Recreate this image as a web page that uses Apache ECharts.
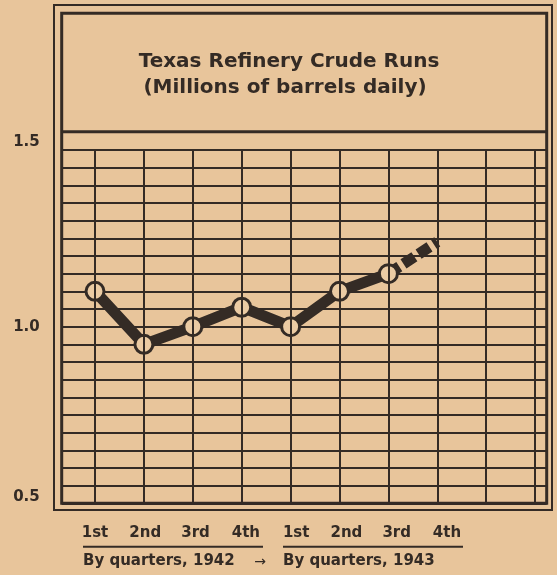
<!DOCTYPE html>
<html><head><meta charset="utf-8">
<script src="https://cdn.jsdelivr.net/npm/echarts@6/dist/echarts.min.js"></script>
<style>html,body{margin:0;padding:0;background:#e8c69d;} #c{width:557px;height:575px;}</style>
</head><body><div id="c"></div>
<script>
// ---- data ----
const titleLines = ['Texas Refinery Crude Runs', '(Millions of barrels daily)'];
const quarters = ['1st', '2nd', '3rd', '4th', '1st', '2nd', '3rd', '4th'];
const groupLabels = ['By quarters, 1942', 'By quarters, 1943'];
const quarterIndex = [0, 1, 2, 3, 4, 5, 6];
const crudeRuns = [1.10, 0.95, 1.00, 1.055, 1.00, 1.10, 1.15];
const projectionIndex = [6, 7];
const projection = [1.15, 1.24];
const gridColumns = [0, 1, 2, 3, 4, 5, 6, 7, 8, 9];
const yTickLabels = [0.5, 1.0, 1.5];

// ---- style ----
const INK = '#342b25';
const PAPER = '#e8c59b';
const FONT = 'DejaVu Sans';

const chart = echarts.init(document.getElementById('c'));
const labelShift = { '1.5': 'a', '1.0': 'm', '0.5': 'b' };

chart.setOption({
  backgroundColor: PAPER,
  animation: false,
  grid: [
    { left: 61.7, top: 150, width: 485, height: 353.3 },
    { left: 95, top: 150, width: 352, height: 353.3 }
  ],
  xAxis: [
    { type: 'value', gridIndex: 0, min: -0.681, max: 9.237,
      axisLine: { show: false }, axisTick: { show: false }, axisLabel: { show: false }, splitLine: { show: false } },
    { type: 'category', gridIndex: 1, data: quarters, boundaryGap: false,
      axisLine: { show: false }, axisTick: { show: false }, splitLine: { show: false },
      axisLabel: { margin: 22, color: INK, fontFamily: FONT, fontWeight: 'bold', fontSize: 15, interval: 0 } }
  ],
  yAxis: [
    { type: 'value', gridIndex: 0, min: 0.5, max: 1.5, interval: 0.05,
      axisLine: { show: false }, axisTick: { show: false },
      splitLine: { show: true, lineStyle: { color: INK, width: 2 } },
      axisLabel: {
        margin: 22, color: INK, fontFamily: FONT, fontWeight: 'bold', fontSize: 15,
        formatter: function (v) {
          for (const t of yTickLabels) {
            if (Math.abs(v - t) < 1e-6) {
              const s = t.toFixed(1);
              return '{' + labelShift[s] + '|' + s + '}';
            }
          }
          return '';
        },
        rich: {
          a: { padding: [0, 0, 16, 0], color: INK, fontFamily: FONT, fontWeight: 'bold', fontSize: 15 },
          m: { padding: [0, 0, 0, 0], color: INK, fontFamily: FONT, fontWeight: 'bold', fontSize: 15 },
          b: { padding: [0, 0, 12, 0], color: INK, fontFamily: FONT, fontWeight: 'bold', fontSize: 15 }
        }
      } },
    { type: 'value', gridIndex: 1, min: 0.5, max: 1.5, show: false }
  ],
  series: [
    {
      name: 'columns', type: 'line', xAxisIndex: 0, yAxisIndex: 0, data: [], z: 1, silent: true,
      markLine: {
        silent: true, symbol: 'none', label: { show: false },
        lineStyle: { color: INK, width: 2, type: 'solid' },
        data: gridColumns.map(x => ({ xAxis: x }))
      }
    },
    {
      name: 'projection', type: 'line', xAxisIndex: 0, yAxisIndex: 0, z: 2,
      data: projectionIndex.map((x, i) => [x, projection[i]]),
      symbol: 'none',
      lineStyle: { color: INK, width: 11, type: [13, 5], cap: 'butt' }
    },
    {
      name: 'crude runs', type: 'line', xAxisIndex: 0, yAxisIndex: 0, z: 3,
      data: quarterIndex.map((x, i) => [x, crudeRuns[i]]),
      symbol: 'circle', symbolSize: 18, showSymbol: true,
      lineStyle: { color: INK, width: 11, join: 'round' },
      itemStyle: { color: '#ebcba3', borderColor: INK, borderWidth: 3 }
    }
  ],
  graphic: [
    { type: 'rect', shape: { x: 54, y: 5, width: 498, height: 505 }, style: { fill: 'none', stroke: INK, lineWidth: 2 }, z: 10 },
    { type: 'rect', shape: { x: 61.7, y: 13.3, width: 485, height: 490 }, style: { fill: 'none', stroke: INK, lineWidth: 3 }, z: 10 },
    { type: 'line', shape: { x1: 61.7, y1: 131.7, x2: 546.7, y2: 131.7 }, style: { stroke: INK, lineWidth: 3 }, z: 10 },
    { type: 'text', x: 289, y: 62, style: { text: titleLines[0], fill: INK, font: 'bold 20px "' + FONT + '"', textAlign: 'center', textVerticalAlign: 'middle' } },
    { type: 'text', x: 285, y: 88, style: { text: titleLines[1], fill: INK, font: 'bold 20px "' + FONT + '"', textAlign: 'center', textVerticalAlign: 'middle' } },
    { type: 'line', shape: { x1: 83, y1: 546.7, x2: 263, y2: 546.7 }, style: { stroke: INK, lineWidth: 2 } },
    { type: 'line', shape: { x1: 283, y1: 546.7, x2: 463, y2: 546.7 }, style: { stroke: INK, lineWidth: 2 } },
    { type: 'text', x: 83, y: 561, style: { text: groupLabels[0], fill: INK, font: 'bold 15px "' + FONT + '"', textAlign: 'left', textVerticalAlign: 'middle' } },
    { type: 'text', x: 283, y: 561, style: { text: groupLabels[1], fill: INK, font: 'bold 15px "' + FONT + '"', textAlign: 'left', textVerticalAlign: 'middle' } },
    { type: 'text', x: 260, y: 562, style: { text: '→', fill: INK, font: '14px "' + FONT + '"', textAlign: 'center', textVerticalAlign: 'middle' } }
  ]
});
</script></body></html>
